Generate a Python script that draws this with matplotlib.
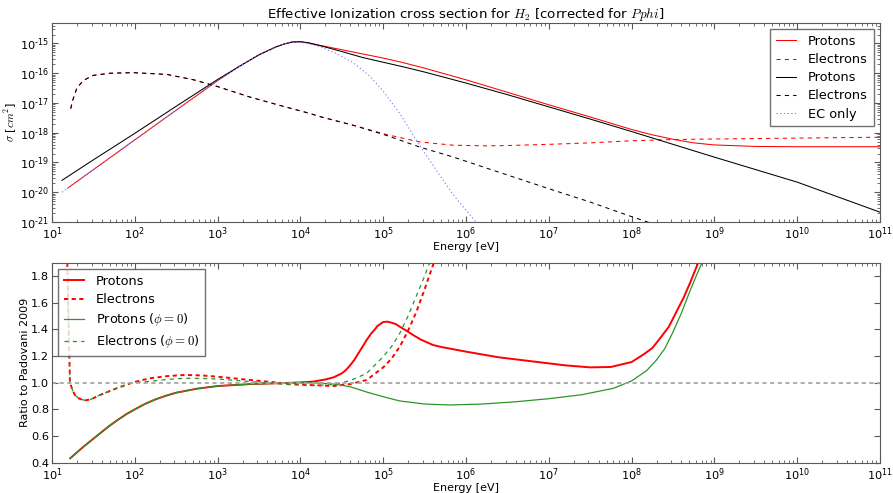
import numpy as np
import matplotlib
matplotlib.use('Agg')
from matplotlib import pyplot as plt
from matplotlib.ticker import LogLocator, NullFormatter, FuncFormatter

plt.rcParams['mathtext.fontset'] = 'cm'
plt.rcParams['axes.unicode_minus'] = False
plt.rcParams['lines.scale_dashes'] = False
plt.rcParams['xtick.direction'] = 'in'
plt.rcParams['ytick.direction'] = 'in'
plt.rcParams['xtick.top'] = True
plt.rcParams['ytick.right'] = True
plt.rcParams['xtick.major.size'] = 4
plt.rcParams['ytick.major.size'] = 4
plt.rcParams['xtick.minor.size'] = 2
plt.rcParams['ytick.minor.size'] = 2
plt.rcParams['xtick.major.pad'] = 2.5
plt.rcParams['ytick.major.pad'] = 2
plt.rcParams['xtick.labelsize'] = 8.2
plt.rcParams['ytick.labelsize'] = 8.2
plt.rcParams['axes.edgecolor'] = '0.35'
plt.rcParams['xtick.color'] = '0.35'
plt.rcParams['ytick.color'] = '0.35'
plt.rcParams['xtick.labelcolor'] = 'black'
plt.rcParams['ytick.labelcolor'] = 'black'

# ---- top panel: log10(E [eV]) and log10(sigma [cm^2])
p_red_logE = [1.19, 1.5, 2.0, 2.5, 3.0, 3.25, 3.5, 3.7, 3.8, 3.9, 4.0, 4.1, 4.25, 4.5, 4.75,
              5.0, 5.25, 5.5, 6.0, 6.5, 7.0, 7.5, 8.0, 8.25, 8.5, 8.75, 9.0, 9.5, 10.0, 11.0]
p_red_logS = [-19.86, -19.24, -18.24, -17.24, -16.25, -15.79, -15.38, -15.12, -15.02, -14.95,
              -14.94, -14.98, -15.07, -15.21, -15.35, -15.49, -15.65, -15.83, -16.22, -16.64,
              -17.06, -17.47, -17.89, -18.07, -18.22, -18.34, -18.41, -18.46, -18.47, -18.47]

e_red_logE = [1.226, 1.25, 1.30, 1.38, 1.5, 1.7, 1.98, 2.39, 2.71, 2.99, 3.39, 3.79, 4.1, 4.24,
              4.64, 5.04, 5.44, 5.85, 6.25, 6.5, 7.0, 7.5, 8.0, 8.5, 9.0, 10.0, 11.0]
e_red_logS = [-17.19, -16.91, -16.50, -16.24, -16.07, -16.0, -15.98, -16.04, -16.22, -16.44,
              -16.80, -17.11, -17.34, -17.46, -17.75, -18.06, -18.31, -18.42, -18.44, -18.43,
              -18.39, -18.34, -18.27, -18.23, -18.21, -18.18, -18.15]

p_blk_logE = [1.12, 1.5, 2.0, 2.5, 3.0, 3.25, 3.5, 3.7, 3.8, 3.9, 4.0, 4.1, 4.25, 4.5, 4.75,
              5.0, 5.25, 5.5, 6.0, 6.5, 7.0, 7.5, 8.0, 8.5, 9.0, 9.5, 10.0, 11.0]
p_blk_logS = [-19.6, -18.91, -18.02, -17.11, -16.21, -15.79, -15.38, -15.12, -15.02, -14.95,
              -14.94, -14.98, -15.08, -15.27, -15.47, -15.63, -15.79, -15.96, -16.33, -16.72,
              -17.13, -17.54, -17.96, -18.39, -18.82, -19.24, -19.66, -20.67]

e_blk_logE = [1.226, 1.25, 1.30, 1.38, 1.5, 1.7, 1.98, 2.39, 2.71, 2.99, 3.39, 3.79, 4.1, 4.24,
              4.64, 5.04, 5.44, 5.85, 6.25, 6.5, 7.0, 7.5, 8.0, 8.3]
e_blk_logS = [-17.19, -16.91, -16.50, -16.24, -16.07, -16.0, -15.98, -16.04, -16.22, -16.44,
              -16.80, -17.11, -17.34, -17.46, -17.75, -18.09, -18.48, -18.82, -19.19, -19.42,
              -19.88, -20.33, -20.82, -21.1]

ec_logE = [1.12, 1.5, 2.0, 2.5, 3.0, 3.25, 3.5, 3.7, 3.8, 3.9, 4.0, 4.1, 4.24, 4.44, 4.64,
           4.84, 5.0, 5.2, 5.4, 5.65, 5.85, 6.12]
ec_logS = [-20.0, -19.24, -18.24, -17.24, -16.25, -15.79, -15.38, -15.12, -15.02, -14.96,
           -14.96, -15.01, -15.11, -15.34, -15.65, -16.1, -16.6, -17.35, -18.25, -19.3,
           -20.1, -21.0]

# ---- bottom panel: ratio to Padovani 2009
rp_red_logE = [1.22, 1.38, 1.58, 1.68, 1.78, 1.9, 2.0, 2.12, 2.25, 2.38, 2.5, 2.75, 3.0, 3.4,
               3.8, 4.0, 4.15, 4.3, 4.4, 4.5, 4.55, 4.6, 4.65, 4.7, 4.75, 4.8, 4.85, 4.9,
               4.93, 5.0, 5.05, 5.1, 5.15, 5.2, 5.28, 5.36, 5.45, 5.6, 5.7, 6.0, 6.4, 6.8,
               7.2, 7.5, 7.75, 8.0, 8.14, 8.25, 8.34, 8.45, 8.54, 8.63, 8.7, 8.805]
rp_red = [0.433, 0.52, 0.62, 0.67, 0.715, 0.765, 0.80, 0.84, 0.875, 0.903, 0.925, 0.955,
          0.975, 0.99, 0.997, 1.002, 1.008, 1.024, 1.04, 1.07, 1.095, 1.13, 1.17, 1.22,
          1.27, 1.32, 1.365, 1.40, 1.425, 1.455, 1.458, 1.45, 1.44, 1.42, 1.39, 1.358,
          1.325, 1.283, 1.268, 1.233, 1.19, 1.16, 1.13, 1.115, 1.118, 1.155, 1.21, 1.26,
          1.33, 1.42, 1.53, 1.64, 1.74, 1.9]

re_red_logE = [1.185, 1.2, 1.217, 1.25, 1.28, 1.33, 1.4, 1.47, 1.58, 1.78, 1.98, 2.18, 2.4,
               2.6, 2.8, 3.0, 3.4, 3.8, 4.1, 4.4, 4.6, 4.8, 5.0, 5.1, 5.2, 5.3, 5.4, 5.5,
               5.6, 5.65]
re_red = [1.9, 1.45, 1.0, 0.94, 0.905, 0.88, 0.867, 0.875, 0.908, 0.958, 1.003, 1.033, 1.05,
          1.058, 1.055, 1.045, 1.02, 0.996, 0.983, 0.975, 0.99, 1.02, 1.115, 1.18, 1.27,
          1.39, 1.53, 1.70, 1.88, 1.97]

rp_grn_logE = [1.22, 1.38, 1.58, 1.68, 1.78, 1.9, 2.0, 2.12, 2.25, 2.38, 2.5, 2.75, 3.0, 3.4,
               3.8, 4.0, 4.2, 4.4, 4.6, 4.8, 5.0, 5.2, 5.5, 5.8, 6.2, 6.6, 7.0, 7.4, 7.78,
               8.0, 8.18, 8.3, 8.4, 8.5, 8.6, 8.7, 8.78, 8.85]
rp_grn = [0.433, 0.52, 0.62, 0.67, 0.715, 0.765, 0.80, 0.84, 0.875, 0.903, 0.925, 0.955,
          0.975, 0.99, 0.997, 1.0, 0.998, 0.99, 0.97, 0.93, 0.895, 0.863, 0.84, 0.833,
          0.84, 0.857, 0.88, 0.91, 0.958, 1.013, 1.09, 1.17, 1.255, 1.38, 1.52, 1.68,
          1.8, 1.9]

re_grn_logE = [1.185, 1.2, 1.217, 1.25, 1.28, 1.33, 1.4, 1.47, 1.58, 1.78, 1.98, 2.18, 2.4,
               2.6, 2.8, 3.0, 3.4, 3.8, 4.1, 4.4, 4.6, 4.8, 5.0, 5.1, 5.2, 5.3, 5.4, 5.5, 5.58]
re_grn = [1.9, 1.45, 1.0, 0.94, 0.905, 0.88, 0.867, 0.875, 0.908, 0.958, 1.003, 1.01, 1.025,
          1.033, 1.032, 1.028, 1.008, 0.988, 0.978, 0.985, 1.015, 1.07, 1.195, 1.27, 1.37,
          1.5, 1.65, 1.8, 1.93]


def p10(a):
    return 10.0 ** np.array(a)


def pow_label(v, pos):
    # plain hyphen in the exponent, like the old log tick labels
    e = int(round(np.log10(v)))
    return r'$\mathdefault{10^{%s}}$' % str(e).replace('-', '\u2010')


fig = plt.figure(figsize=(8.93, 4.93), dpi=100)
ax1 = fig.add_axes([52/893, 1-222/493, 828/893, 199.3/493])
ax2 = fig.add_axes([52/893, 1-462.7/493, 828/893, 200/493])

dash = (3, 3)
green = '#2a962a'
ax1.loglog(p10(p_red_logE), p10(p_red_logS), color='r', lw=0.75, label='Protons')
ax1.loglog(p10(e_red_logE), p10(e_red_logS), color='r', lw=0.75, dashes=dash, label='Electrons')
ax1.loglog(p10(p_blk_logE), p10(p_blk_logS), color='k', lw=0.75, label='Protons')
ax1.loglog(p10(e_blk_logE), p10(e_blk_logS), color='k', lw=0.75, dashes=dash, label='Electrons')
ax1.loglog(p10(ec_logE), p10(ec_logS), color='#7878ff', lw=0.7, ls=':', label='EC only')
ax1.set_xlim(1e1, 1e11)
ax1.set_ylim(1e-21, 5e-15)
ax1.set_title(r'Effective Ionization cross section for $H_2$ [corrected for $Pphi$]',
              fontsize=9.6, pad=1.5)
ax1.set_xlabel('Energy [eV]', fontsize=8, labelpad=0)
ax1.set_ylabel(r'$\sigma$ [$cm^2$]', fontsize=8)
ax1.yaxis.set_label_coords(-0.040, 0.5)

legkw = dict(fontsize=9.3, fancybox=False, edgecolor='0.3', handlelength=1.55,
             handletextpad=0.9, labelspacing=0.4, borderpad=0.45)
ax1.legend(loc='upper right', **legkw)

ax2.semilogx(p10(rp_red_logE), rp_red, color='r', lw=1.4, label='Protons')
ax2.semilogx(p10(re_red_logE), re_red, color='r', lw=1.4, dashes=(3, 2.5), label='Electrons')
ax2.semilogx(p10(rp_grn_logE), rp_grn, color=green, lw=0.9, label=r'Protons ($\phi=0$)')
ax2.semilogx(p10(re_grn_logE), re_grn, color=green, lw=0.9, dashes=dash,
             label=r'Electrons ($\phi=0$)')
ax2.axhline(1.0, color='0.65', lw=1.3, dashes=(3, 2.5))
ax2.set_xlim(1e1, 1e11)
ax2.set_ylim(0.4, 1.9)
ax2.set_yticks([0.4, 0.6, 0.8, 1.0, 1.2, 1.4, 1.6, 1.8])
ax2.set_xlabel('Energy [eV]', fontsize=8, labelpad=0)
ax2.set_ylabel('Ratio to Padovani 2009', fontsize=8)
ax2.yaxis.set_label_coords(-0.027, 0.5)
ax2.legend(loc='upper left', **legkw)

for ax in (ax1, ax2):
    ax.xaxis.set_major_locator(LogLocator(base=10, numticks=30))
    ax.xaxis.set_major_formatter(FuncFormatter(pow_label))
    ax.xaxis.set_minor_locator(LogLocator(base=10, subs=np.arange(2, 10), numticks=30))
    ax.xaxis.set_minor_formatter(NullFormatter())
ax1.yaxis.set_major_locator(LogLocator(base=10, numticks=30))
ax1.yaxis.set_major_formatter(FuncFormatter(pow_label))
ax1.yaxis.set_minor_locator(LogLocator(base=10, subs=np.arange(2, 10), numticks=30))
ax1.yaxis.set_minor_formatter(NullFormatter())

fig.savefig('out.png', dpi=100)
